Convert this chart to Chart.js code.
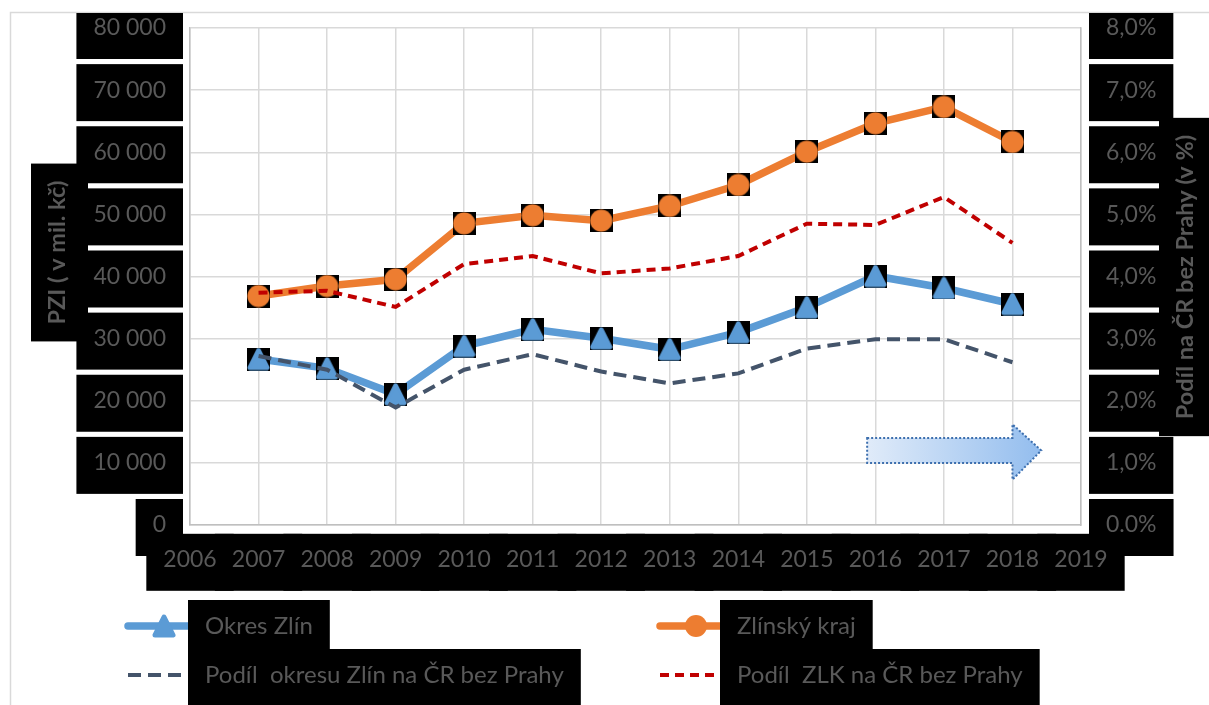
<!DOCTYPE html>
<html>
<head>
<meta charset="utf-8">
<title>PZI – Okres Zlín a Zlínský kraj</title>
<script src="https://cdn.jsdelivr.net/npm/chart.js@4.4.1/dist/chart.umd.min.js"></script>
<style>
  html, body { margin: 0; padding: 0; background: #ffffff; }
  #wrap { width: 1209px; height: 705px; position: relative; }
</style>
</head>
<body>
<div id="wrap"><canvas id="chart" width="1209" height="705"></canvas></div>
<script>
// ---- data -------------------------------------------------------------
const years = [2007, 2008, 2009, 2010, 2011, 2012, 2013, 2014, 2015, 2016, 2017, 2018];

// PZI in mil. Kč
const okresZlin   = [26720, 25220, 21040, 28810, 31500, 30050, 28280, 31020, 35040, 40080, 38150, 35570];
const zlinskyKraj = [36860, 38470, 39550, 48560, 49850, 48990, 51350, 54730, 60090, 64660, 67290, 61650];

// share of the Czech Republic without Prague, in %
const podilOkresu = [2.72, 2.50, 1.89, 2.50, 2.75, 2.47, 2.28, 2.44, 2.84, 2.99, 2.99, 2.62];
const podilZlk    = [3.74, 3.77, 3.51, 4.20, 4.33, 4.05, 4.13, 4.33, 4.85, 4.83, 5.28, 4.54];

const seriesNames = [
  'Okres Zlín',
  'Zlínský kraj',
  'Podíl  okresu Zlín na ČR bez Prahy',
  'Podíl  ZLK na ČR bez Prahy'
];

// axis tick labels
const yearTicks = ['2006', '2007', '2008', '2009', '2010', '2011', '2012', '2013', '2014', '2015', '2016', '2017', '2018', '2019'];
const pziTicks  = ['0', '10 000', '20 000', '30 000', '40 000', '50 000', '60 000', '70 000', '80 000'];
const pctTicks  = ['0.0%', '1,0%', '2,0%', '3,0%', '4,0%', '5,0%', '6,0%', '7,0%', '8,0%'];

const axisTitleLeft  = 'PZI ( v mil. kč)';
const axisTitleRight = 'Podíl na ČR bez Prahy (v %)';

// ---- styling ------------------------------------------------------------
const FONT = 'Lato, "Open Sans", sans-serif';
const TEXT_GREY = '#595959';
const GRID = '#d9d9d9';
const AXIS = '#bfbfbf';
const BLUE = '#5B9BD5', ORANGE = '#ED7D31', SLATE = '#44546A', RED = '#C00000';

// text labels sit on black plates
const PLATE_X = 17, PLATE_UP = 26, PLATE_DOWN = 31;

function toXY(values) {
  return years.map((yr, i) => ({ x: yr, y: values[i] }));
}

// marker sprites: coloured symbol on a small black square
function makeMarker(kind, color) {
  const s = 23;
  const c = document.createElement('canvas');
  c.width = s; c.height = s;
  const g = c.getContext('2d');
  g.fillStyle = '#000';
  g.fillRect(0, 0, s, s);
  g.fillStyle = color;
  if (kind === 'circle') {
    g.beginPath();
    g.arc(s / 2, s / 2, s / 2 - 0.4, 0, Math.PI * 2);
    g.fill();
  } else {
    g.beginPath();
    g.moveTo(s / 2, 3);
    g.lineTo(s - 3, s - 3);
    g.lineTo(3, s - 3);
    g.closePath();
    g.lineJoin = 'round';
    g.lineWidth = 5;
    g.strokeStyle = color;
    g.stroke();
    g.fill();
  }
  return c;
}

function drawTriangle(ctx, cx, cy, size, color) {
  const h = size / 2;
  ctx.save();
  ctx.beginPath();
  ctx.moveTo(cx, cy - h + 2.5);
  ctx.lineTo(cx + h - 2.5, cy + h - 2.5);
  ctx.lineTo(cx - h + 2.5, cy + h - 2.5);
  ctx.closePath();
  ctx.lineJoin = 'round';
  ctx.lineWidth = 5;
  ctx.strokeStyle = color;
  ctx.fillStyle = color;
  ctx.stroke();
  ctx.fill();
  ctx.restore();
}

function plate(ctx, left, right, cy) {
  ctx.fillRect(left - PLATE_X, cy - PLATE_UP, (right - left) + 2 * PLATE_X, PLATE_UP + PLATE_DOWN);
}

// keep the plot area fixed regardless of label overhang
function fixVertical(width) {
  return s => { s.width = width; s.paddingTop = 0; s.paddingBottom = 0; };
}

// ---- plugins ----------------------------------------------------------
const tickFont = '23px ' + FONT;
const legendFont = '24px ' + FONT;
const titleFont = 'bold 23.5px ' + FONT;

const platesPlugin = {
  id: 'plates',
  beforeDraw(chart) {
    const ctx = chart.ctx;
    const { x, y, y1 } = chart.scales;
    ctx.save();
    // outer chart frame
    ctx.strokeStyle = GRID;
    ctx.lineWidth = 1.5;
    ctx.strokeRect(10.5, 12.5, chart.width + 20, chart.height + 20);

    ctx.beginPath();
    ctx.rect(11.5, 13, chart.width, chart.height);
    ctx.clip();

    ctx.fillStyle = '#000';
    ctx.font = tickFont;

    // left value axis labels
    y.ticks.forEach((t, i) => {
      const w = ctx.measureText(pziTicks[i]).width;
      const right = y.right - y.options.ticks.padding;
      plate(ctx, right - w, right, y.getPixelForValue(t.value));
    });
    // right share axis labels
    y1.ticks.forEach((t, i) => {
      const w = ctx.measureText(pctTicks[i]).width;
      const left = y1.left + y1.options.ticks.padding;
      plate(ctx, left, left + w, y1.getPixelForValue(t.value));
    });
    // year labels
    const yearMid = x.top + x.options.ticks.padding + 23 * 1.2 / 2;
    x.ticks.forEach((t, i) => {
      const w = ctx.measureText(yearTicks[i]).width;
      const px = x.getPixelForValue(t.value);
      plate(ctx, px - w / 2, px + w / 2, yearMid);
    });

    // axis titles, rotated to read bottom-up
    ctx.font = titleFont;
    const titles = [
      { text: axisTitleLeft,  cx: 57,   cy: 252.5 },
      { text: axisTitleRight, cx: 1185, cy: 277 }
    ];
    titles.forEach(tt => {
      const w = ctx.measureText(tt.text).width;
      ctx.save();
      ctx.translate(tt.cx, tt.cy);
      ctx.rotate(-Math.PI / 2);
      ctx.fillStyle = '#000';
      plate(ctx, -w / 2, w / 2, 0);
      ctx.fillStyle = TEXT_GREY;
      ctx.textAlign = 'center';
      ctx.textBaseline = 'middle';
      ctx.fillText(tt.text, 0, 0);
      ctx.restore();
    });
    ctx.restore();
  },
  afterDatasetsDraw(chart) {
    // "trend continues" arrow in the lower right part of the plot
    const ctx = chart.ctx;
    const { x, y1 } = chart.scales;
    const xl = x.getPixelForValue(2015.88);
    const xb = x.getPixelForValue(2018.0);
    const xt = x.getPixelForValue(2018.42);
    const yTop = y1.getPixelForValue(1.40), yBot = y1.getPixelForValue(1.00);
    const hTop = y1.getPixelForValue(1.62), hBot = y1.getPixelForValue(0.73);
    const yMid = (yTop + yBot) / 2;
    ctx.save();
    ctx.beginPath();
    ctx.moveTo(xl, yTop);
    ctx.lineTo(xb, yTop);
    ctx.lineTo(xb, hTop);
    ctx.lineTo(xt, yMid);
    ctx.lineTo(xb, hBot);
    ctx.lineTo(xb, yBot);
    ctx.lineTo(xl, yBot);
    ctx.closePath();
    const grad = ctx.createLinearGradient(xl, 0, xt, 0);
    grad.addColorStop(0, '#e0ebf9');
    grad.addColorStop(1, '#93bdee');
    ctx.fillStyle = grad;
    ctx.fill();
    ctx.setLineDash([2, 2]);
    ctx.lineWidth = 2;
    ctx.strokeStyle = '#3d6fae';
    ctx.stroke();
    ctx.restore();
  },
  afterDraw(chart) {
    // legend in two columns
    const ctx = chart.ctx;
    const ds = chart.data.datasets;
    const cols = [164, 696];
    const rows = [626, 675];
    const slots = [[0, 0], [1, 0], [0, 1], [1, 1]];
    ctx.save();
    ctx.font = legendFont;
    slots.forEach(([c, r], i) => {
      const d = ds[i];
      const cx = cols[c], cy = rows[r];
      // symbol
      ctx.save();
      ctx.strokeStyle = d.borderColor;
      ctx.lineWidth = d.borderWidth;
      ctx.lineCap = d.borderDash ? 'butt' : 'round';
      ctx.setLineDash(d.borderDash || []);
      ctx.beginPath();
      ctx.moveTo(cx - 36, cy);
      ctx.lineTo(cx + 36, cy);
      ctx.stroke();
      ctx.setLineDash([]);
      if (d.legendMarker === 'triangle') drawTriangle(ctx, cx, cy, 23, d.borderColor);
      if (d.legendMarker === 'circle') {
        ctx.fillStyle = d.borderColor;
        ctx.beginPath();
        ctx.arc(cx, cy, 11, 0, Math.PI * 2);
        ctx.fill();
      }
      ctx.restore();
    });
    slots.forEach(([c, r], i) => {
      const cx = cols[c], cy = rows[r];
      const tx = cx + 41;
      const w = ctx.measureText(ds[i].label).width;
      ctx.fillStyle = '#000';
      plate(ctx, tx, tx + w, cy);
    });
    slots.forEach(([c, r], i) => {
      const cx = cols[c], cy = rows[r];
      ctx.fillStyle = TEXT_GREY;
      ctx.textAlign = 'left';
      ctx.textBaseline = 'middle';
      ctx.fillText(ds[i].label, cx + 41, cy);
    });
    ctx.restore();
  }
};

// ---- chart ------------------------------------------------------------
const tickFontOpt = { family: FONT, size: 23 };

new Chart(document.getElementById('chart'), {
  type: 'line',
  data: {
    datasets: [
      {
        label: seriesNames[0], data: toXY(okresZlin), yAxisID: 'y',
        borderColor: BLUE, backgroundColor: BLUE, borderWidth: 7.5,
        pointStyle: makeMarker('triangle', BLUE), pointRadius: 11,
        legendMarker: 'triangle', order: 1, tension: 0
      },
      {
        label: seriesNames[1], data: toXY(zlinskyKraj), yAxisID: 'y',
        borderColor: ORANGE, backgroundColor: ORANGE, borderWidth: 7.5,
        pointStyle: makeMarker('circle', ORANGE), pointRadius: 11,
        legendMarker: 'circle', order: 1, tension: 0
      },
      {
        label: seriesNames[2], data: toXY(podilOkresu), yAxisID: 'y1',
        borderColor: SLATE, backgroundColor: SLATE, borderWidth: 4,
        borderDash: [13, 7], pointRadius: 0, order: 0, tension: 0
      },
      {
        label: seriesNames[3], data: toXY(podilZlk), yAxisID: 'y1',
        borderColor: RED, backgroundColor: RED, borderWidth: 4,
        borderDash: [9, 6], pointRadius: 0, order: 0, tension: 0
      }
    ]
  },
  options: {
    responsive: false,
    animation: false,
    devicePixelRatio: 1,
    events: [],
    layout: { padding: { top: 28, left: 0, right: 0, bottom: 0 } },
    plugins: { legend: { display: false }, tooltip: { enabled: false } },
    scales: {
      x: {
        type: 'linear', min: 2006, max: 2019,
        ticks: {
          stepSize: 1, autoSkip: false, maxRotation: 0, padding: 21,
          color: TEXT_GREY, font: tickFontOpt,
          callback: (v, i) => yearTicks[i]
        },
        grid: { color: GRID, lineWidth: 1.5, drawTicks: false },
        border: { color: AXIS, width: 1.5 },
        afterFit: s => { s.height = 180; s.paddingLeft = 0; s.paddingRight = 0; }
      },
      y: {
        position: 'left', min: 0, max: 80000,
        ticks: {
          stepSize: 10000, padding: 24,
          color: TEXT_GREY, font: tickFontOpt,
          callback: (v, i) => pziTicks[i]
        },
        grid: { color: GRID, lineWidth: 1.5, drawTicks: false },
        border: { color: AXIS, width: 1.5 },
        afterFit: fixVertical(190)
      },
      y1: {
        position: 'right', min: 0, max: 8,
        ticks: {
          stepSize: 1, padding: 25,
          color: TEXT_GREY, font: tickFontOpt,
          callback: (v, i) => pctTicks[i]
        },
        grid: { drawOnChartArea: false, drawTicks: false },
        border: { color: AXIS, width: 1.5 },
        afterFit: fixVertical(128)
      }
    }
  },
  plugins: [platesPlugin]
});
</script>
</body>
</html>
